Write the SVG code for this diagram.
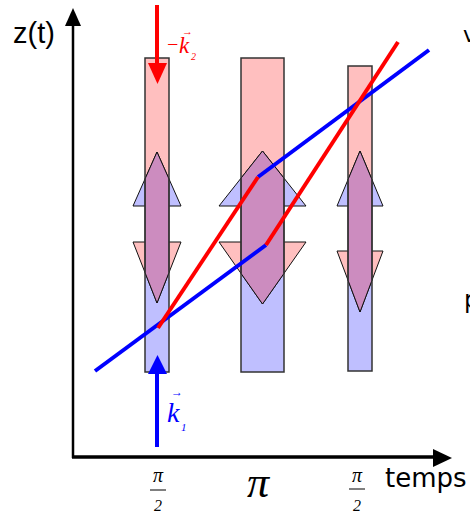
<svg xmlns="http://www.w3.org/2000/svg" width="470" height="511" viewBox="0 0 470 511">
<style>
.pink{fill:#FFBFBF}
.blue{fill:#BFBFFF}
.tri{stroke:#111;stroke-width:1;stroke-linejoin:miter}
.purp{fill:#CC8CBF;stroke:#111;stroke-width:1}
.frame{fill:none;stroke:#333;stroke-width:1.5}
.ax{stroke:#000;fill:none}
.rl{stroke:#FF0000;stroke-width:4;fill:none}
.bl{stroke:#0000FF;stroke-width:4;fill:none}
.sans{font-family:"Liberation Sans",Arial,sans-serif}
.deja{font-family:"DejaVu Sans",sans-serif}
.math{font-family:"Liberation Serif","Times New Roman",serif;font-style:italic}
</style>
<rect width="470" height="511" fill="#fff"/>

<g id="axes">
<line class="ax" x1="73" y1="458" x2="73" y2="24" stroke-width="2.5"/>
<polygon points="73,8 65,26 81,26" fill="#000"/>
<line class="ax" x1="72" y1="457" x2="436" y2="457" stroke-width="3.5"/>
<polygon points="452,458 433,449 433,467" fill="#000"/>
</g>

<g id="column1">
<rect class="pink" x="145" y="58" width="24" height="166"/>
<rect class="blue" x="145" y="224" width="24" height="148"/>
<polygon class="blue tri" points="157,152 133,206 181,206"/>
<polygon class="pink tri" points="157,303 133,242 181,242"/>
<polygon class="purp" points="157,152 145,179 145,272.5 157,303 169,272.5 169,179"/>
<rect class="frame" x="145" y="58" width="24" height="314"/>
</g>

<g id="column2">
<rect class="pink" x="241" y="58" width="43" height="166"/>
<rect class="blue" x="241" y="224" width="43" height="148"/>
<polygon class="blue tri" points="262.5,151 219,206 306,206"/>
<polygon class="pink tri" points="262.5,304 219,242 306,242"/>
<polygon class="purp" points="262.5,151 241,178.2 241,273.4 262.5,304 284,273.4 284,178.2"/>
<rect class="frame" x="241" y="58" width="43" height="314"/>
</g>

<g id="column3">
<rect class="pink" x="348" y="66" width="24" height="165"/>
<rect class="blue" x="348" y="231" width="24" height="140"/>
<polygon class="blue tri" points="360,151 337,206 383,206"/>
<polygon class="pink tri" points="360,312 337,251 383,251"/>
<polygon class="purp" points="360,151 348,179.7 348,280.2 360,312 372,280.2 372,179.7"/>
<rect class="frame" x="348" y="66" width="24" height="305"/>
</g>

<g id="connectors">
<polyline class="bl" points="95,371 266,245"/>
<polyline class="bl" points="258,177 429,50"/>
<polyline class="rl" points="158,328 258,177"/>
<polyline class="rl" points="266,245 398,42"/>
</g>

<g id="arrow-k2">
<line x1="157" y1="5" x2="157" y2="65" stroke="#FF0000" stroke-width="4"/>
<polygon points="148,63 167,63 157.5,84" fill="#FF0000"/>
<text class="math" x="166" y="51" font-size="20" fill="#FF0000" font-style="normal">−</text>
<text class="math" x="179" y="53" font-size="23" fill="#FF0000">k</text>
<text class="math" x="182" y="35" font-size="11" fill="#FF0000" font-style="normal">→</text>
<text class="math" x="191" y="60" font-size="10" fill="#FF0000" font-style="normal">2</text>
</g>

<g id="arrow-k1">
<line x1="157" y1="447" x2="157" y2="372" stroke="#0000FF" stroke-width="4"/>
<polygon points="148,374 167,374 157.5,355" fill="#0000FF"/>
<text class="math" x="167" y="422" font-size="28" fill="#0000FF">k</text>
<text class="math" x="171" y="396" font-size="12" fill="#0000FF" font-style="normal">→</text>
<text class="math" x="181" y="431" font-size="11" fill="#0000FF" font-style="normal">1</text>
</g>

<g id="labels">
<text class="sans" x="13" y="43" font-size="29">z(t)</text>
<text class="deja" x="385" y="487" font-size="26">temps</text>
<text class="deja" x="463" y="42" font-size="22">v</text>
<text class="deja" x="464" y="308" font-size="24">p</text>
<text class="math" x="247" y="497" font-size="44">π</text>
<g id="frac1">
<text class="math" x="158" y="482" font-size="20" text-anchor="middle">π</text>
<line x1="150" y1="490" x2="166" y2="490" stroke="#000" stroke-width="1"/>
<text class="math" x="158" y="511" font-size="16" text-anchor="middle" font-style="normal">2</text>
</g>
<g id="frac2">
<text class="math" x="357" y="482" font-size="20" text-anchor="middle">π</text>
<line x1="349" y1="489" x2="365" y2="489" stroke="#000" stroke-width="1"/>
<text class="math" x="357" y="511" font-size="16" text-anchor="middle" font-style="normal">2</text>
</g>
</g>
</svg>
